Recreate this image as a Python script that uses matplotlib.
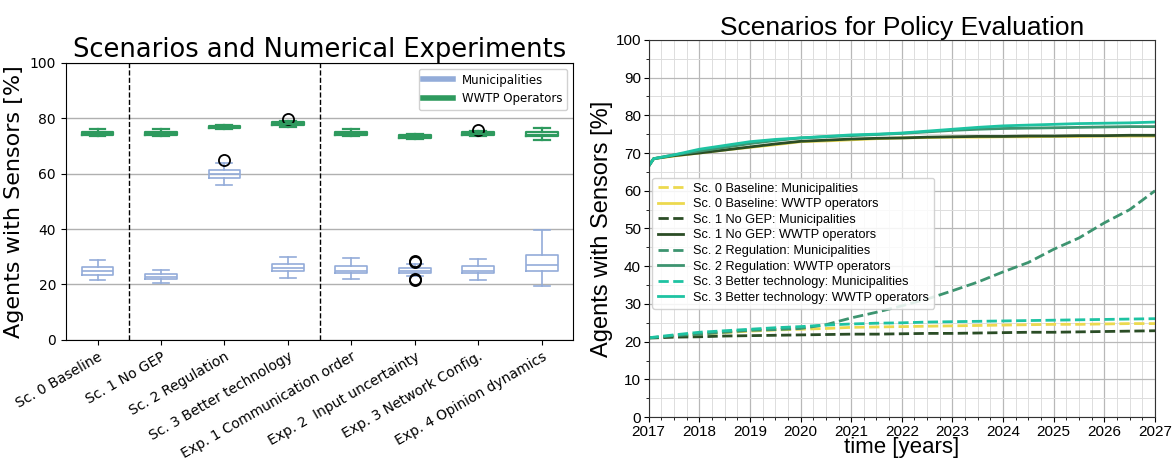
import matplotlib
matplotlib.use("Agg")
import matplotlib.pyplot as plt
from matplotlib.lines import Line2D
from matplotlib.ticker import MultipleLocator

# ---------------- Left panel data (box statistics) ----------------
categories = ["Sc. 0 Baseline", "Sc. 1 No GEP", "Sc. 2 Regulation", "Sc. 3 Better technology",
              "Exp. 1 Communication order", "Exp. 2  Input uncertainty", "Exp. 3 Network Config.",
              "Exp. 4 Opinion dynamics"]

mun_whislo = [21.5, 20.5, 56.0, 22.5, 22.0, 23.0, 21.5, 19.5]
mun_q1     = [23.5, 22.0, 58.5, 25.0, 24.3, 24.2, 24.0, 25.0]
mun_med    = [24.7, 22.8, 60.0, 26.0, 25.0, 25.0, 25.0, 27.2]
mun_q3     = [26.3, 23.8, 61.3, 27.5, 26.8, 26.0, 26.8, 30.8]
mun_whishi = [28.8, 25.3, 64.0, 30.0, 29.5, 27.5, 29.2, 39.5]
mun_fliers = [[], [], [65.0], [], [], [28.0, 28.6, 21.6, 22.0], [], []]

wwtp_whislo = [73.5, 73.8, 76.3, 77.0, 73.5, 72.7, 73.5, 72.0]
wwtp_q1     = [74.0, 74.0, 76.5, 77.5, 74.0, 73.0, 74.0, 73.5]
wwtp_med    = [74.5, 74.5, 77.0, 78.0, 74.5, 73.5, 74.5, 74.0]
wwtp_q3     = [75.0, 75.0, 77.3, 78.5, 75.0, 74.0, 75.0, 75.0]
wwtp_whishi = [76.0, 76.0, 77.6, 79.0, 76.0, 74.5, 75.5, 76.5]
wwtp_fliers = [[], [], [], [79.8], [], [], [75.9], []]

# ---------------- Right panel data (time series) ----------------
years = [2017.0, 2017.1, 2017.5, 2018.0, 2018.5, 2019.0, 2019.5, 2020.0, 2020.5, 2021.0, 2021.5,
         2022.0, 2022.5, 2023.0, 2023.5, 2024.0, 2024.5, 2025.0, 2025.5, 2026.0, 2026.5, 2027.0]

sc0_mun = [21.0, 21.1, 21.5, 22.0, 22.4, 22.8, 23.1, 23.3, 23.5, 23.8, 23.9,
           24.0, 24.1, 24.2, 24.3, 24.4, 24.5, 24.6, 24.6, 24.7, 24.8, 24.8]
sc0_wwtp = [66.5, 68.5, 69.2, 70.0, 70.8, 71.5, 72.2, 73.0, 73.2, 73.5, 73.8,
            74.0, 74.1, 74.2, 74.2, 74.3, 74.3, 74.4, 74.4, 74.5, 74.5, 74.5]
sc1_mun = [21.0, 21.0, 21.2, 21.3, 21.5, 21.6, 21.7, 21.8, 21.9, 22.0, 22.0,
           22.1, 22.2, 22.2, 22.3, 22.4, 22.5, 22.5, 22.6, 22.7, 22.8, 22.9]
sc1_wwtp = [66.5, 68.5, 69.3, 70.0, 70.8, 71.6, 72.4, 73.1, 73.4, 73.7, 73.9,
            74.0, 74.2, 74.3, 74.4, 74.4, 74.5, 74.5, 74.6, 74.6, 74.7, 74.7]
sc2_mun = [21.0, 21.1, 21.6, 22.0, 22.5, 23.0, 23.2, 23.5, 24.5, 26.3, 27.8,
           29.5, 31.3, 33.5, 35.8, 38.5, 41.0, 44.5, 47.5, 51.5, 55.0, 60.0]
sc2_wwtp = [66.5, 68.5, 69.5, 70.5, 71.5, 72.5, 73.3, 74.0, 74.3, 74.6, 74.9,
            75.2, 75.6, 76.0, 76.3, 76.5, 76.6, 76.7, 76.8, 76.9, 77.0, 77.0]
sc3_mun = [21.0, 21.2, 21.8, 22.5, 22.9, 23.3, 23.7, 24.0, 24.4, 24.7, 24.9,
           25.0, 25.2, 25.3, 25.4, 25.5, 25.6, 25.7, 25.8, 25.9, 26.0, 26.1]
sc3_wwtp = [66.5, 68.5, 69.5, 71.0, 72.0, 73.0, 73.6, 74.0, 74.4, 74.8, 75.0,
            75.3, 75.8, 76.3, 76.8, 77.2, 77.4, 77.6, 77.8, 77.9, 78.0, 78.2]

scenario_names = ["Sc. 0 Baseline", "Sc. 1 No GEP", "Sc. 2 Regulation", "Sc. 3 Better technology"]
scenario_colors = ["#ecd94f", "#2b4d26", "#3d9470", "#1ec3a2"]
mun_series = [sc0_mun, sc1_mun, sc2_mun, sc3_mun]
wwtp_series = [sc0_wwtp, sc1_wwtp, sc2_wwtp, sc3_wwtp]

# ---------------- Figure ----------------
fig = plt.figure(figsize=(11.75, 4.63), dpi=100)

# Left panel
ax1 = fig.add_axes([0.056, 0.266, 0.432, 0.598])
mun_col = "#93acd9"
wwtp_col = "#2e9a5e"
positions = list(range(1, len(categories) + 1))

def make_stats(lo, q1, med, q3, hi, fl):
    return [dict(whislo=a, q1=b, med=c, q3=d, whishi=e, fliers=f)
            for a, b, c, d, e, f in zip(lo, q1, med, q3, hi, fl)]

flierprops = dict(marker="o", markerfacecolor="none", markeredgecolor="black",
                  markersize=8, markeredgewidth=1.3)
ax1.bxp(make_stats(mun_whislo, mun_q1, mun_med, mun_q3, mun_whishi, mun_fliers),
        positions=positions, widths=0.5,
        boxprops=dict(color=mun_col, linewidth=1.2),
        whiskerprops=dict(color=mun_col, linewidth=1.2),
        capprops=dict(color=mun_col, linewidth=1.2),
        medianprops=dict(color=mun_col, linewidth=1.2),
        flierprops=flierprops)
ax1.bxp(make_stats(wwtp_whislo, wwtp_q1, wwtp_med, wwtp_q3, wwtp_whishi, wwtp_fliers),
        positions=positions, widths=0.5,
        boxprops=dict(color=wwtp_col, linewidth=1.6),
        whiskerprops=dict(color=wwtp_col, linewidth=1.6),
        capprops=dict(color=wwtp_col, linewidth=1.6),
        medianprops=dict(color=wwtp_col, linewidth=1.6),
        flierprops=flierprops)

for xv in [1.5, 4.5]:
    ax1.axvline(xv, color="black", linestyle="--", linewidth=1.0)
ax1.set_ylim(0, 100)
ax1.set_xlim(0.5, len(categories) + 0.5)
ax1.set_yticks([0, 20, 40, 60, 80, 100])
ax1.yaxis.grid(True, color="#b0b0b0", linewidth=1.0)
ax1.set_axisbelow(True)
ax1.set_xticks(positions)
ax1.set_xticklabels(categories, rotation=30, ha="right", rotation_mode="anchor", fontsize=10)
ax1.tick_params(axis="y", labelsize=10)
ax1.set_title("Scenarios and Numerical Experiments", fontsize=18.5, pad=4)
ax1.set_ylabel("Agents with Sensors [%]", fontsize=16)
leg_handles = [Line2D([0], [0], color=mun_col, lw=4), Line2D([0], [0], color=wwtp_col, lw=4)]
ax1.legend(leg_handles, ["Municipalities", "WWTP Operators"], loc="upper right", fontsize=8.5,
           framealpha=0.9, handlelength=2.5)

# Right panel
ax2 = fig.add_axes([0.552, 0.099, 0.431, 0.815])
for name, col, mun, ww in zip(scenario_names, scenario_colors, mun_series, wwtp_series):
    ax2.plot(years, mun, color=col, linestyle="--", linewidth=2.0, label=f"{name}: Municipalities")
    ax2.plot(years, ww, color=col, linestyle="-", linewidth=2.0, label=f"{name}: WWTP operators")

ax2.set_xlim(2017, 2027)
ax2.set_ylim(0, 100)
ax2.xaxis.set_major_locator(MultipleLocator(1))
ax2.xaxis.set_minor_locator(MultipleLocator(0.25))
ax2.yaxis.set_major_locator(MultipleLocator(10))
ax2.yaxis.set_minor_locator(MultipleLocator(5))
ax2.grid(True, which="major", color="#b8b8b8", linewidth=0.9)
ax2.grid(True, which="minor", color="#dddddd", linewidth=0.7)
ax2.set_axisbelow(True)
font_r = ["Liberation Sans", "DejaVu Sans"]
for lab in ax2.get_xticklabels() + ax2.get_yticklabels():
    lab.set_family(font_r)
ax2.tick_params(axis="both", labelsize=11, pad=2)
for sp in ax2.spines.values():
    sp.set_color("#333333")
ax2.set_title("Scenarios for Policy Evaluation", fontsize=19, family=font_r, pad=3)
ax2.set_ylabel("Agents with Sensors [%]", fontsize=17, family=font_r, labelpad=2)
ax2.set_xlabel("time [years]", fontsize=16, family=font_r, labelpad=-1)
ax2.legend(loc="upper left", bbox_to_anchor=(0.0, 0.645), prop=dict(family=font_r, size=9.2),
           framealpha=0.85, handlelength=2.0, labelspacing=0.28, borderaxespad=0.3)

fig.savefig("out.png", dpi=100)
